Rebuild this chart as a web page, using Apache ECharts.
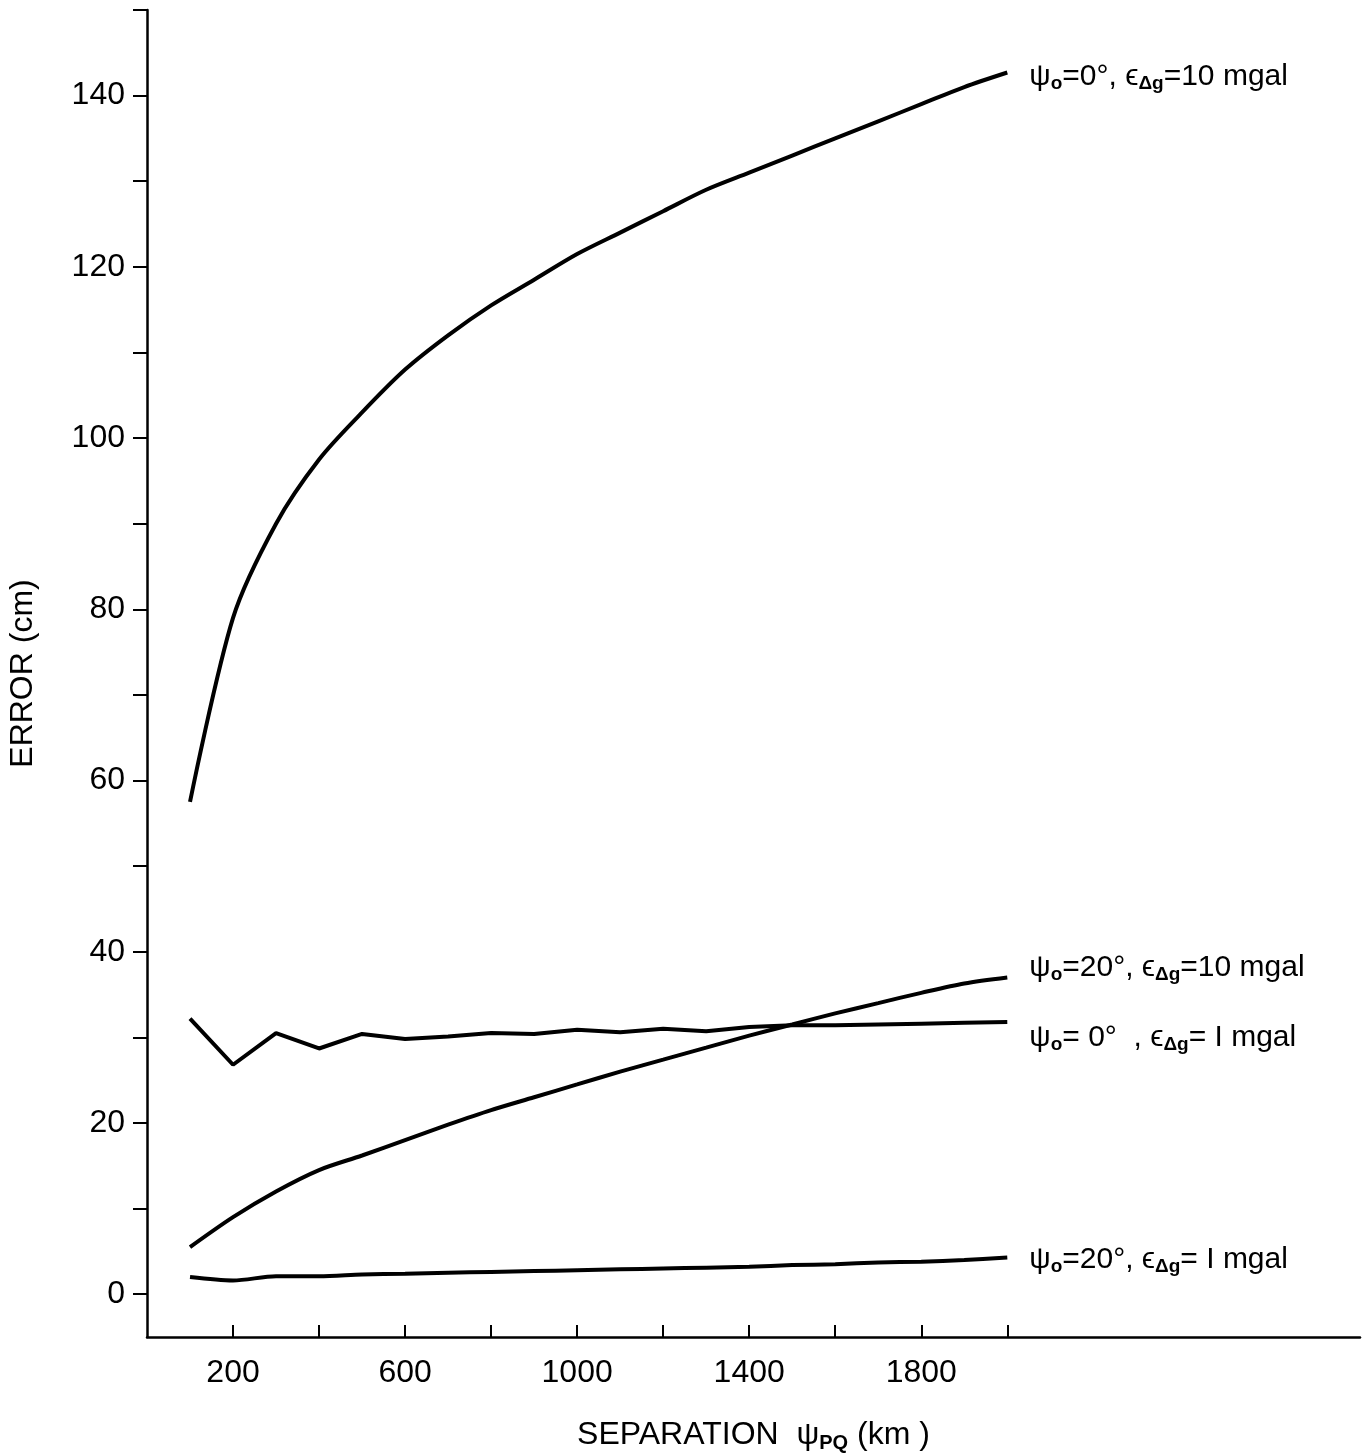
<!DOCTYPE html>
<html><head><meta charset="utf-8">
<script src="https://cdn.jsdelivr.net/npm/echarts@6/dist/echarts.min.js"></script>
<style>html,body{margin:0;background:#fff}#c{width:1364px;height:1453px}</style>
</head><body><div id="c"></div>
<script>
var sep = [100, 200, 300, 400, 500, 600, 700, 800, 900, 1000, 1100, 1200, 1300, 1400, 1500, 1600, 1700, 1800, 1900, 2000];
var err0_10 = [57.5, 79, 90, 97.5, 103, 108, 112, 115.5, 118.5, 121.5, 124, 126.5, 129, 131, 133, 135, 137, 139, 141, 142.7];
var err20_10 = [5.5, 9, 12, 14.5, 16.2, 18, 19.8, 21.5, 23, 24.5, 26, 27.4, 28.8, 30.2, 31.5, 32.8, 34, 35.2, 36.3, 37];
var err0_1 = [32.2, 26.8, 30.5, 28.7, 30.4, 29.8, 30.1, 30.5, 30.4, 30.9, 30.6, 31, 30.7, 31.2, 31.4, 31.4, 31.5, 31.6, 31.7, 31.8];
var err20_1 = [2, 1.6, 2.1, 2.1, 2.3, 2.4, 2.5, 2.6, 2.7, 2.8, 2.9, 3, 3.1, 3.2, 3.4, 3.5, 3.7, 3.8, 4, 4.3];
var xTicks = [200, 400, 600, 800, 1000, 1200, 1400, 1600, 1800, 2000];
var xLabels = [200, 600, 1000, 1400, 1800];
var yTicks = [0, 10, 20, 30, 40, 50, 60, 70, 80, 90, 100, 110, 120, 130, 140, 150];
var yLabels = [0, 20, 40, 60, 80, 100, 120, 140];
var labelText = ['{p|ψ}{s|o}=0°, {p|ϵ}{s|Δg}=10 mgal', '{p|ψ}{s|o}=20°, {p|ϵ}{s|Δg}=10 mgal',
                 '{p|ψ}{s|o}= 0°  , {p|ϵ}{s|Δg}= I mgal', '{p|ψ}{s|o}=20°, {p|ϵ}{s|Δg}= I mgal'];
var labelOffset = [[14, 4], [14, -10], [14, 16], [14, 2]];
var font = 'Liberation Sans';

function pairs(ys) { return sep.map(function (x, i) { return [x, ys[i]]; }); }
var rich = {
  p: { fontSize: 30, fontFamily: font, color: '#000' },
  s: { fontSize: 19, fontFamily: font, color: '#000', fontWeight: 'bold', verticalAlign: 'bottom', padding: [14, 0, 0, 0] }
};
var chart = echarts.init(document.getElementById('c'));
chart.setOption({
  animation: false,
  grid: { left: 147, top: 10, right: 4, bottom: 116, outerBoundsMode: 'none', containLabel: false },
  xAxis: {
    type: 'value', min: 0, max: 2820,
    name: 'SEPARATION  {p|ψ}{s|PQ} (km )', nameLocation: 'middle', nameGap: 80,
    nameTextStyle: { fontSize: 32, fontFamily: font, color: '#000', rich: {
      p: { fontSize: 32, fontFamily: font, color: '#000' },
      s: { fontSize: 20, fontFamily: font, color: '#000', fontWeight: 'bold', verticalAlign: 'bottom', padding: [16, 0, 0, 0] } } },
    axisLine: { onZero: false, lineStyle: { color: '#000', width: 2.5 } },
    axisTick: { inside: true, length: 12, customValues: xTicks, lineStyle: { color: '#000', width: 2 } },
    axisLabel: { customValues: xLabels, fontSize: 32, fontFamily: font, color: '#000', margin: 20,
      formatter: function (v) { return String(v); } },
    splitLine: { show: false }
  },
  yAxis: {
    type: 'value', min: -5, max: 150,
    name: 'ERROR (cm)', nameLocation: 'middle', nameGap: 108,
    nameTextStyle: { fontSize: 32, fontFamily: font, color: '#000' },
    axisLine: { lineStyle: { color: '#000', width: 2.5 } },
    axisTick: { length: 14, customValues: yTicks, lineStyle: { color: '#000', width: 2 } },
    axisLabel: { customValues: yLabels, fontSize: 32, fontFamily: font, color: '#000', margin: 22 },
    splitLine: { show: false }
  },
  series: [err0_10, err20_10, err0_1, err20_1].map(function (ys, i) {
    return {
      type: 'line', data: pairs(ys), showSymbol: false, smooth: i !== 2 ? 0.3 : false,
      lineStyle: { color: '#000', width: 4 },
      endLabel: { show: true, formatter: labelText[i], offset: labelOffset[i],
        fontSize: 30, fontFamily: font, color: '#000', rich: rich }
    };
  })
});
</script></body></html>
